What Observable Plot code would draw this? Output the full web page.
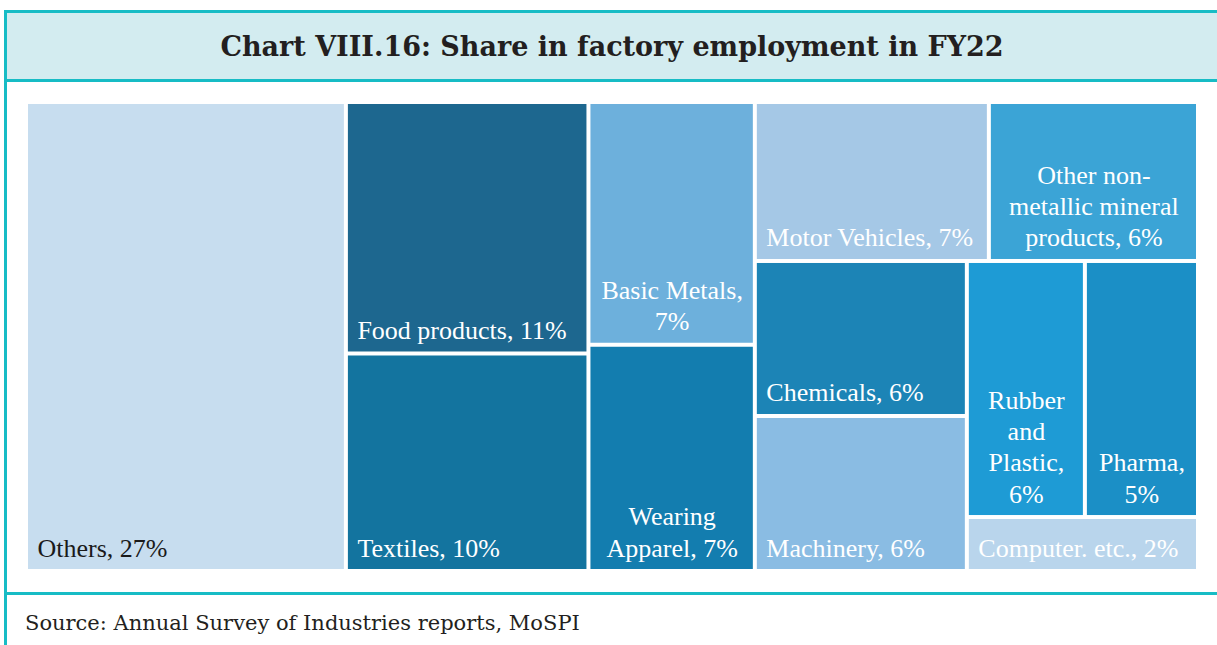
<!DOCTYPE html>
<html>
<head>
<meta charset="utf-8">
<script src="https://cdn.jsdelivr.net/npm/d3@7"></script>
<script src="https://cdn.jsdelivr.net/npm/@observablehq/plot@0.6"></script>
<style>
  html, body { margin: 0; padding: 0; background: #ffffff; }
  body { width: 1217px; height: 645px; overflow: hidden; position: relative; }
  #frame { position: absolute; left: 4px; top: 10px; width: 1300px; height: 700px;
           border-left: 3px solid #17bcc5; border-top: 3px solid #17bcc5; box-sizing: border-box; }
  #title { position: absolute; left: 7px; top: 13px; width: 1210px; height: 66px;
           background: #d3ecf0; border-bottom: 3px solid #17bcc5;
           font-family: "DejaVu Serif", serif; font-weight: bold; font-size: 27px; color: #231f20;
           display: flex; align-items: center; justify-content: center; box-sizing: content-box; }
  #sep { position: absolute; left: 4px; top: 592px; width: 1213px; height: 3px; background: #17bcc5; }
  #source { position: absolute; left: 25px; top: 611px; font-family: "DejaVu Serif", serif;
            font-size: 21px; color: #231f20; white-space: nowrap; }
  #chart { position: absolute; left: 0; top: 82px; }
</style>
</head>
<body>
<div id="frame"></div>
<div id="title">Chart VIII.16: Share in factory employment in FY22</div>
<div id="chart"></div>
<div id="sep"></div>
<div id="source">Source: Annual Survey of Industries reports, MoSPI</div>
<script>
// Categories (in tiling order), shares (%), labels and colours
const categories = ["Others", "Food products", "Textiles", "Basic Metals", "Wearing Apparel",
  "Motor Vehicles", "Other non-metallic mineral products", "Chemicals", "Machinery",
  "Rubber and Plastic", "Pharma", "Computer. etc."];
const shares = [27.3, 11.1, 9.6, 7.35, 6.85, 6.77, 6.05, 5.98, 5.98, 5.5, 5.27, 2.27];
const labels = ["Others, 27%", "Food products, 11%", "Textiles, 10%", "Basic Metals,\n7%",
  "Wearing\nApparel, 7%", "Motor Vehicles, 7%", "Other non-\nmetallic mineral\nproducts, 6%",
  "Chemicals, 6%", "Machinery, 6%", "Rubber\nand\nPlastic,\n6%", "Pharma,\n5%", "Computer. etc., 2%"];
// strip (row/column) each category belongs to in the treemap
const strips = [0, 1, 1, 2, 2, 3, 3, 4, 4, 5, 5, 6];
const colors = ["#c7ddef", "#1d678f", "#13749f", "#6db0dc", "#137daf", "#a5c8e6", "#3ba4d6",
  "#1c84b6", "#8abce3", "#1e9bd5", "#1b8fc6", "#b9d5ec"];
const textColors = ["#1a1a1a", "#fff", "#fff", "#fff", "#fff", "#fff", "#fff", "#fff", "#fff", "#fff", "#fff", "#fff"];

const width = 1217, height = 511;
const mL = 26, mR = 19, mT = 20, mB = 22;
const W = width - mL - mR, H = height - mT - mB;

// Strip-based squarified layout computed from the shares
function layout() {
  let x0 = 0, y0 = 0, x1 = W, y1 = H;
  let rem = d3.sum(shares);
  const out = [];
  const stripIds = [...new Set(strips)];
  for (const s of stripIds) {
    const idx = strips.map((v, i) => v === s ? i : -1).filter(i => i >= 0);
    const sv = d3.sum(idx, i => shares[i]);
    if ((x1 - x0) >= (y1 - y0)) {
      const w = (x1 - x0) * sv / rem;
      let yy = y0;
      for (const i of idx) {
        const h = (y1 - y0) * shares[i] / sv;
        out.push({i, x1: x0, x2: x0 + w, y1: yy, y2: yy + h});
        yy += h;
      }
      x0 += w;
    } else {
      const h = (y1 - y0) * sv / rem;
      let xx = x0;
      for (const i of idx) {
        const w = (x1 - x0) * shares[i] / sv;
        out.push({i, x1: xx, x2: xx + w, y1: y0, y2: y0 + h});
        xx += w;
      }
      y0 += h;
    }
    rem -= sv;
  }
  return out.map(d => ({...d, name: categories[d.i], label: labels[d.i], color: colors[d.i],
    tcolor: textColors[d.i], multi: labels[d.i].includes("\n")}));
}
const cells = layout();

const chart = Plot.plot({
  width, height,
  marginLeft: mL, marginRight: mR, marginTop: mT, marginBottom: mB,
  x: {domain: [0, W], axis: null},
  y: {domain: [0, H], reverse: true, axis: null},
  style: {background: "transparent"},
  marks: [
    Plot.rect(cells, {x1: "x1", x2: "x2", y1: "y1", y2: "y2", fill: "color", inset: 2}),
    Plot.text(cells.filter(d => !d.multi), {
      x: "x1", y: "y2", text: "label", fill: "tcolor", textAnchor: "start", lineAnchor: "bottom",
      dx: 11, dy: -15, fontSize: 26, fontFamily: "Liberation Serif, Times New Roman, serif"
    }),
    Plot.text(cells.filter(d => d.multi), {
      x: d => (d.x1 + d.x2) / 2, y: "y2", text: "label", fill: "tcolor", textAnchor: "middle",
      lineAnchor: "bottom", lineHeight: 1.2,
      dy: -15, fontSize: 26, fontFamily: "Liberation Serif, Times New Roman, serif"
    })
  ]
});
document.getElementById("chart").appendChild(chart);
</script>
</body>
</html>
